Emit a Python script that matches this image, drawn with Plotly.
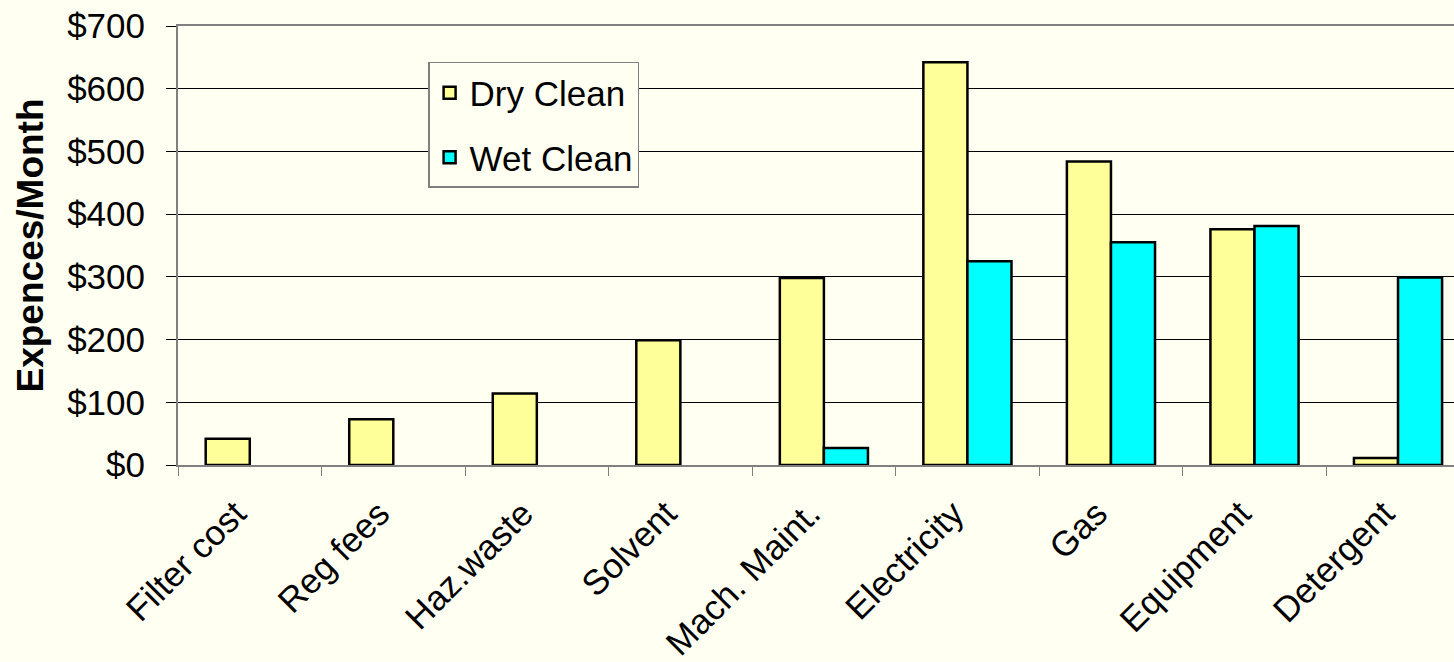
import plotly.graph_objects as go

categories = ["Filter cost", "Reg fees", "Haz.waste", "Solvent", "Mach. Maint.",
              "Electricity", "Gas", "Equipment", "Detergent"]
dry_clean = [42, 73, 114, 199, 298, 642, 484, 376, 11]
wet_clean = [None, None, None, None, 27, 325, 355, 381, 299]
y_ticks = [0, 100, 200, 300, 400, 500, 600, 700]
y_tick_labels = ["$" + str(v) for v in y_ticks]

BG = "#FFFFF2"
FONT = "Liberation Sans, Arial, sans-serif"

fig = go.Figure()
fig.add_trace(go.Bar(name="Dry Clean", x=categories, y=dry_clean,
                     marker=dict(color="#FFFF99", line=dict(color="black", width=2.5)),
                     legendgroup="a"))
fig.add_trace(go.Bar(name="Wet Clean", x=categories, y=wet_clean,
                     marker=dict(color="#00FFFF", line=dict(color="black", width=2.5)),
                     legendgroup="b"))

fig.update_layout(
    width=1454, height=662,
    margin=dict(l=178, r=0, t=26, b=197, pad=0),
    paper_bgcolor=BG, plot_bgcolor=BG,
    font=dict(family=FONT, size=35, color="black"),
    barmode="group", bargap=0.386, bargroupgap=0,
    showlegend=True,
    legend=dict(x=0.196, y=0.918, xanchor="left", yanchor="top",
                bgcolor=BG, bordercolor="#808080", borderwidth=1.5,
                font=dict(size=35), tracegroupgap=16, traceorder="grouped"),
    xaxis=dict(range=[-0.5, 8.39], tickangle=-45, showgrid=False,
               showline=True, linecolor="#808080", linewidth=2, mirror=True,
               ticks="outside", tickson="boundaries", ticklen=9, tickcolor="#808080",
               ticklabelshift=-14, ticklabelstandoff=12,
               tickfont=dict(size=35)),
    yaxis=dict(range=[0, 700], tickmode="array", tickvals=y_ticks, ticktext=y_tick_labels,
               showgrid=True, gridcolor="black", gridwidth=1,
               zeroline=False, showline=True, linecolor="#808080", linewidth=2,
               ticks="outside", ticklen=10, tickcolor="black", ticklabelstandoff=14,
               tickfont=dict(size=35),
               title=dict(text="<b>Expences/Month</b>", font=dict(size=37), standoff=12)),
)

fig.write_html("out.html", config={"displayModeBar": False},
               post_script="document.body.style.margin='0';document.body.style.overflow='hidden';")
